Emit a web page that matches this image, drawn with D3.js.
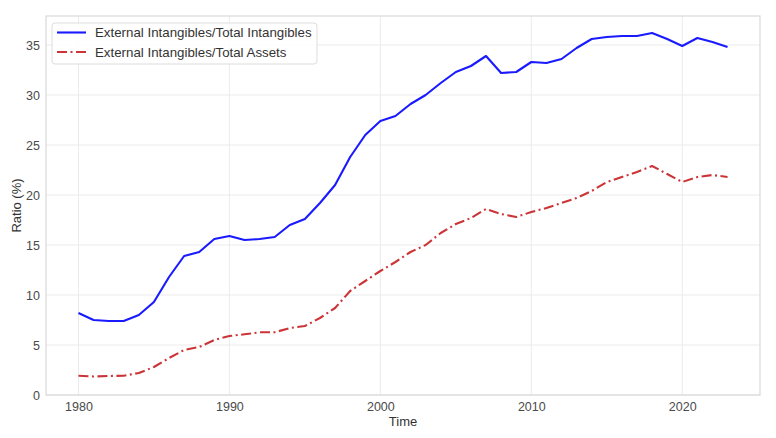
<!DOCTYPE html>
<html>
<head>
<meta charset="utf-8">
<script src="https://cdn.jsdelivr.net/npm/d3@7"></script>
<style>
	body { margin: 0; background: #fff; }
	svg { font-family: "Liberation Sans", Arial, sans-serif; }
</style>
</head>
<body>
<div id="content"></div>
<script>
// yearly ratios
var years = d3.range(1980, 2024);
var intangRatio = [8.2, 7.5, 7.4, 7.4, 8.0, 9.3, 11.8, 13.9, 14.3, 15.6,
	15.9, 15.5, 15.6, 15.8, 17.0, 17.6, 19.2, 21.0, 23.8, 26.0,
	27.4, 27.9, 29.1, 30.0, 31.2, 32.3, 32.9, 33.9, 32.2, 32.3,
	33.3, 33.2, 33.6, 34.7, 35.6, 35.8, 35.9, 35.9, 36.2, 35.6,
	34.9, 35.7, 35.3, 34.8];
var assetRatio = [1.93, 1.85, 1.9, 1.93, 2.2, 2.8, 3.7, 4.5, 4.8, 5.5,
	5.9, 6.07, 6.27, 6.27, 6.7, 6.9, 7.7, 8.7, 10.4, 11.4,
	12.4, 13.3, 14.3, 15.0, 16.2, 17.1, 17.7, 18.6, 18.1, 17.8,
	18.3, 18.7, 19.2, 19.7, 20.4, 21.3, 21.8, 22.3, 22.9, 22.1,
	21.3, 21.8, 22.0, 21.8];
var seriesNames = ["External Intangibles/Total Intangibles", "External Intangibles/Total Assets"];
var yTicks = [0, 5, 10, 15, 20, 25, 30, 35];
var xTicks = [1980, 1990, 2000, 2010, 2020];

function main() {
	var width = 776, height = 438;
	var margin = { top: 16, right: 16, bottom: 43, left: 46 };

	var svg = d3.select("#content").append("svg")
		.attr("width", width)
		.attr("height", height);

	var x = d3.scaleLinear()
		.domain([1977.85, 2025.15])
		.range([margin.left, width - margin.right]);
	var y = d3.scaleLinear()
		.domain([0, 37.9])
		.range([height - margin.bottom, margin.top]);

	// grid
	var grid = svg.append("g").attr("stroke", "#ebebeb").attr("stroke-width", 1);
	grid.selectAll(".gy").data(yTicks).enter().append("line")
		.attr("x1", x.range()[0]).attr("x2", x.range()[1])
		.attr("y1", function (d) { return y(d); }).attr("y2", function (d) { return y(d); });
	grid.selectAll(".gx").data(xTicks).enter().append("line")
		.attr("y1", y.range()[0]).attr("y2", y.range()[1])
		.attr("x1", function (d) { return x(d); }).attr("x2", function (d) { return x(d); });

	// frame
	svg.append("rect")
		.attr("x", x.range()[0]).attr("y", y.range()[1])
		.attr("width", x.range()[1] - x.range()[0])
		.attr("height", y.range()[0] - y.range()[1])
		.attr("fill", "none").attr("stroke", "#d9d9d9").attr("stroke-width", 1.2);

	// axes (tick labels only, like seaborn whitegrid)
	var xAxis = svg.append("g")
		.attr("transform", "translate(0," + y.range()[0] + ")")
		.call(d3.axisBottom(x).tickValues(xTicks).tickFormat(d3.format("d")).tickSize(0).tickPadding(7));
	var yAxis = svg.append("g")
		.attr("transform", "translate(" + x.range()[0] + ",0)")
		.call(d3.axisLeft(y).tickValues(yTicks).tickSize(0).tickPadding(6));
	[xAxis, yAxis].forEach(function (a) {
		a.select(".domain").remove();
		a.selectAll("text").attr("fill", "#4a4a4a").style("font-size", "12.5px")
			.style("font-family", "'Liberation Sans', Arial, sans-serif");
	});

	svg.append("text")
		.attr("x", (x.range()[0] + x.range()[1]) / 2)
		.attr("y", 426)
		.attr("text-anchor", "middle")
		.attr("fill", "#333")
		.style("font-size", "13px")
		.text("Time");
	svg.append("text")
		.attr("transform", "translate(21," + (y.range()[0] + y.range()[1]) / 2 + ") rotate(-90)")
		.attr("text-anchor", "middle")
		.attr("fill", "#333")
		.style("font-size", "13px")
		.text("Ratio (%)");

	var line = d3.line()
		.x(function (d, i) { return x(years[i]); })
		.y(function (d) { return y(d); });

	var styles = [
		{ data: intangRatio, color: "#1a1aff", dash: null },
		{ data: assetRatio, color: "#cc3538", dash: "10,3.5,2,3.5" }
	];

	svg.selectAll(".series").data(styles).enter().append("path")
		.attr("class", "series")
		.attr("d", function (d) { return line(d.data); })
		.attr("fill", "none")
		.attr("stroke", function (d) { return d.color; })
		.attr("stroke-width", 2.1)
		.attr("stroke-linejoin", "round")
		.attr("stroke-dasharray", function (d) { return d.dash; });

	// legend
	var legend = svg.append("g");
	legend.append("rect")
		.attr("x", 52).attr("y", 23).attr("width", 265).attr("height", 41)
		.attr("rx", 3)
		.attr("fill", "#fff").attr("fill-opacity", 0.85)
		.attr("stroke", "#dddddd");
	var items = legend.selectAll(".item").data(styles).enter().append("g")
		.attr("transform", function (d, i) { return "translate(57," + (32.5 + i * 19.5) + ")"; });
	items.append("line")
		.attr("x1", 0).attr("x2", 29)
		.attr("stroke", function (d) { return d.color; })
		.attr("stroke-width", 2.1)
		.attr("stroke-dasharray", function (d) { return d.dash; });
	items.append("text")
		.attr("x", 38).attr("dy", "0.35em")
		.attr("fill", "#333")
		.style("font-size", "13.3px")
		.text(function (d, i) { return seriesNames[i]; });
}

main();
</script>
</body>
</html>
